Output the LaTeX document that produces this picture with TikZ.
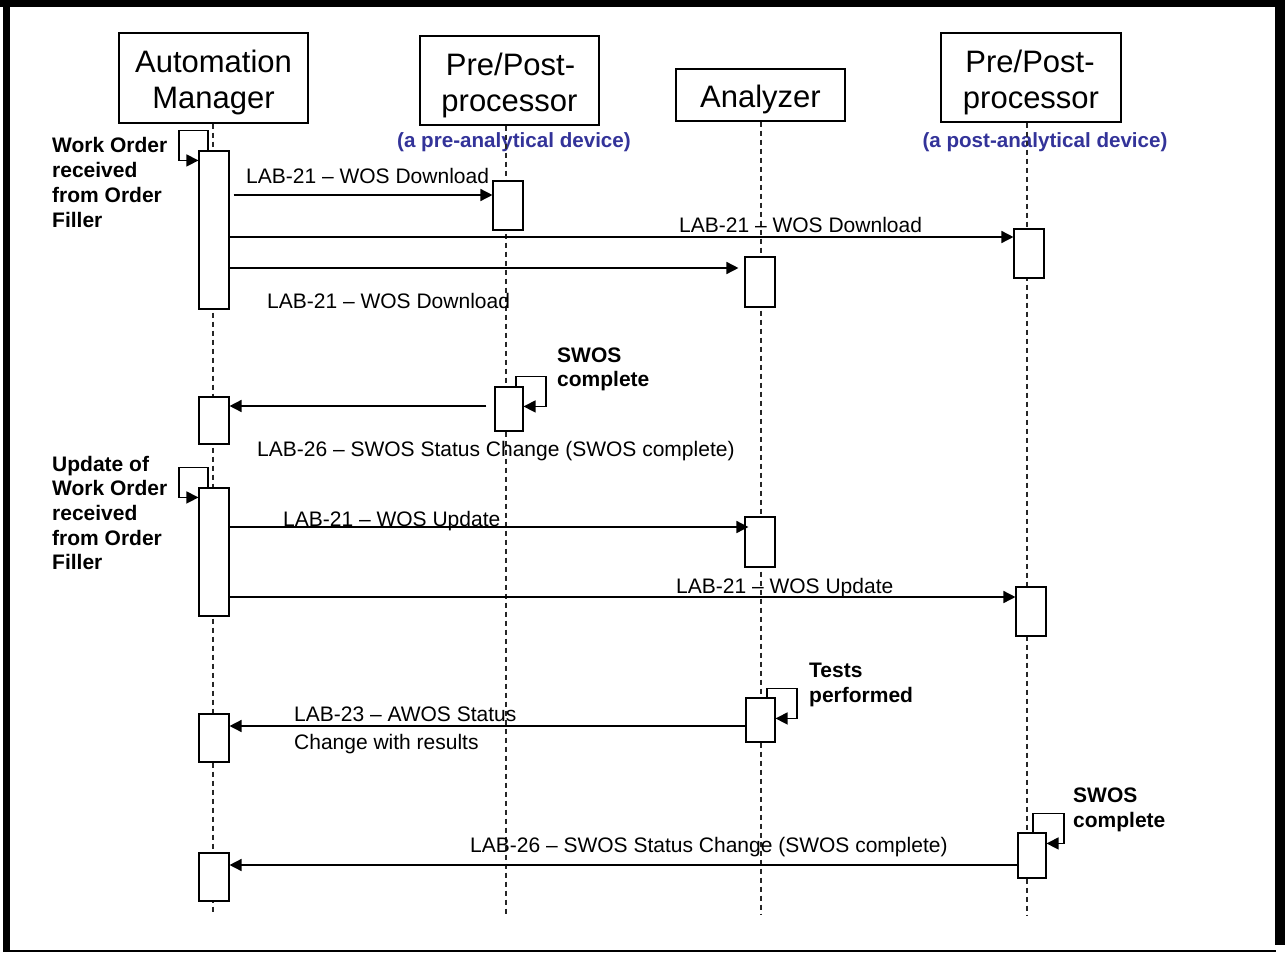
\documentclass[tikz,border=0pt]{standalone}
\usepackage{fontspec}
\setmainfont{Liberation Sans}
\usetikzlibrary{arrows.meta,calc}
\definecolor{devblue}{RGB}{51,51,153}
\begin{document}
\begin{tikzpicture}[x=1pt,y=-1pt,
  hdrbox/.style 2 args={draw, line width=1.1pt, fill=white, minimum width=#1, minimum height=#2, inner sep=0},
  act/.style={draw, line width=1.1pt, fill=white, minimum width=30pt, minimum height=#1, inner sep=0},
  msg/.style={line width=1.5pt, -{Triangle[length=12pt,width=12pt]}},
  life/.style={line width=1.2pt, dash pattern=on 5pt off 4pt, black!85},
  big/.style={font=\fontsize{31}{37}\selectfont, inner sep=0, anchor=base},
  lbl/.style={font=\fontsize{21}{25}\selectfont, inner sep=0, anchor=base west},
  note/.style={font=\bfseries\fontsize{21}{25}\selectfont, inner sep=0, anchor=base west},
  sub/.style={font=\bfseries\fontsize{20.6}{25}\selectfont, text=devblue, inner sep=0, anchor=base}]
\useasboundingbox (0,0) rectangle (1285,953);
% frame
\fill[black] (3,0) rectangle (10,951);
\fill[black] (0,0) rectangle (1285,7);
\fill[black] (1275,0) rectangle (1285,945);
\fill[black] (3,950) rectangle (1276,952);
% header boxes
\node[hdrbox={189pt}{90pt}] (am) at (213.5,78) {};
\node[hdrbox={179pt}{89pt}] (pre) at (509.5,80.5) {};
\node[hdrbox={169pt}{52pt}] (ana) at (760.5,95) {};
\node[hdrbox={180pt}{89pt}] (post) at (1031,77.5) {};
\node[big] (amt1) at (213.5,72) {Automation};
\node[big] (amt2) at (213.5,108) {Manager};
\node[big] (pret1) at (510.5,75) {Pre/Post-};
\node[big] (pret2) at (509.5,111) {processor};
\node[big] (anat) at (760.5,107) {Analyzer};
\node[big] (postt1) at (1030,72) {Pre/Post-};
\node[big] (postt2) at (1031,108) {processor};
\node[sub] (presub) at (514,147) {(a pre-analytical device)};
\node[sub] (postsub) at (1045,147) {(a post-analytical device)};
% lifelines
\coordinate (amL) at (213,915);
\coordinate (preL) at (506,915);
\coordinate (anaL) at (761,915);
\coordinate (postL) at (1027,915);
\draw[life] (am.south -| amL) -- (amL);
\draw[life] (pre.south -| preL) -- (preL);
\draw[life] (ana.south -| anaL) -- (anaL);
\draw[life] (post.south -| postL) -- (postL);
% activation boxes
\node[act=158pt] (am1) at (214,230) {};
\node[act=49pt] (pre1) at (508,205.5) {};
\node[act=49pt] (post1) at (1029,253.5) {};
\node[act=50pt] (ana1) at (760,282) {};
\node[act=44pt, minimum width=28pt] (pre2) at (509,409) {};
\node[act=47pt] (am2) at (214,420.5) {};
\node[act=128pt] (am3) at (214,552) {};
\node[act=50pt] (ana2) at (760,542) {};
\node[act=49pt] (post2) at (1031,611.5) {};
\node[act=44pt, minimum width=29pt] (ana3) at (760.5,720) {};
\node[act=48pt] (am4) at (214,738) {};
\node[act=45pt, minimum width=28pt] (post3) at (1032,855.5) {};
\node[act=48pt] (am5) at (214,877) {};
% message heights
\coordinate (y1) at (0,195);
\coordinate (y2) at (0,237);
\coordinate (y3) at (0,268);
\coordinate (y4) at (0,406);
\coordinate (y5) at (0,527);
\coordinate (y6) at (0,597);
\coordinate (y7) at (0,726);
\coordinate (y8) at (0,865);
% messages
\draw[msg] ($(am1.east |- y1)+(4,0)$) -- (pre1.west |- y1);
\draw[msg] (am1.east |- y2) -- (post1.west |- y2);
\draw[msg] (am1.east |- y3) -- ($(ana1.west |- y3)+(-6,0)$);
\draw[msg] ($(pre2.west |- y4)+(-8,0)$) -- (am2.east |- y4);
\draw[msg] (am3.east |- y5) -- ($(ana2.west |- y5)+(4,0)$);
\draw[msg] (am3.east |- y6) -- (post2.west |- y6);
\draw[msg] (ana3.west |- y7) -- (am4.east |- y7);
\draw[msg] (post3.west |- y8) -- (am5.east |- y8);
% self loops
\draw[msg] ($(am1.north)+(-6,0)$) -- ++(0,-20) -- ++(-29,0) -- ++(0,30) -- ($(am1.north west)+(0,10)$);
\draw[msg] ($(am3.north)+(-6,0)$) -- ++(0,-20) -- ++(-29,0) -- ++(0,30) -- ($(am3.north west)+(0,10)$);
\draw[msg] ($(pre2.north)+(7,0)$) -- ++(0,-10) -- ++(30,0) -- ++(0,30) -- ($(pre2.north east)+(0,20)$);
\draw[msg] ($(ana3.north)+(6.5,0)$) -- ++(0,-9) -- ++(30,0) -- ++(0,30) -- ($(ana3.north east)+(0,21)$);
\draw[msg] ($(post3.north)+(1,0)$) -- ++(0,-19) -- ++(31,0) -- ++(0,30) -- ($(post3.north east)+(0,11)$);
% message labels
\node[lbl] (l1) at (246,183.5) {LAB-21 – WOS Download};
\node[lbl] (l2) at (679,232) {LAB-21 – WOS Download};
\node[lbl] (l3) at (267,308.5) {LAB-21 – WOS Download};
\node[lbl] (l4) at (257,456.5) {LAB-26 – SWOS Status Change (SWOS complete)};
\node[lbl] (l5) at (283,526) {LAB-21 – WOS Update};
\node[lbl] (l6) at (676,593) {LAB-21 – WOS Update};
\node[lbl] (l7a) at (294,721) {LAB-23 – AWOS Status};
\node[lbl] (l7b) at (294,749) {Change with results};
\node[lbl] (l8) at (470,852.5) {LAB-26 – SWOS Status Change (SWOS complete)};
% notes
\node[note] (n1a) at (52,152) {Work Order};
\node[note] (n1b) at (52,177) {received};
\node[note] (n1c) at (52,202) {from Order};
\node[note] (n1d) at (52,227) {Filler};
\node[note] (n2a) at (52,471) {Update of};
\node[note] (n2b) at (52,495) {Work Order};
\node[note] (n2c) at (52,520) {received};
\node[note] (n2d) at (52,545) {from Order};
\node[note] (n2e) at (52,569) {Filler};
\node[note] (n3a) at (557,362) {SWOS};
\node[note] (n3b) at (557,386) {complete};
\node[note] (n4a) at (809,677) {Tests};
\node[note] (n4b) at (809,702) {performed};
\node[note] (n5a) at (1073,802) {SWOS};
\node[note] (n5b) at (1073,827) {complete};
\end{tikzpicture}
\end{document}
